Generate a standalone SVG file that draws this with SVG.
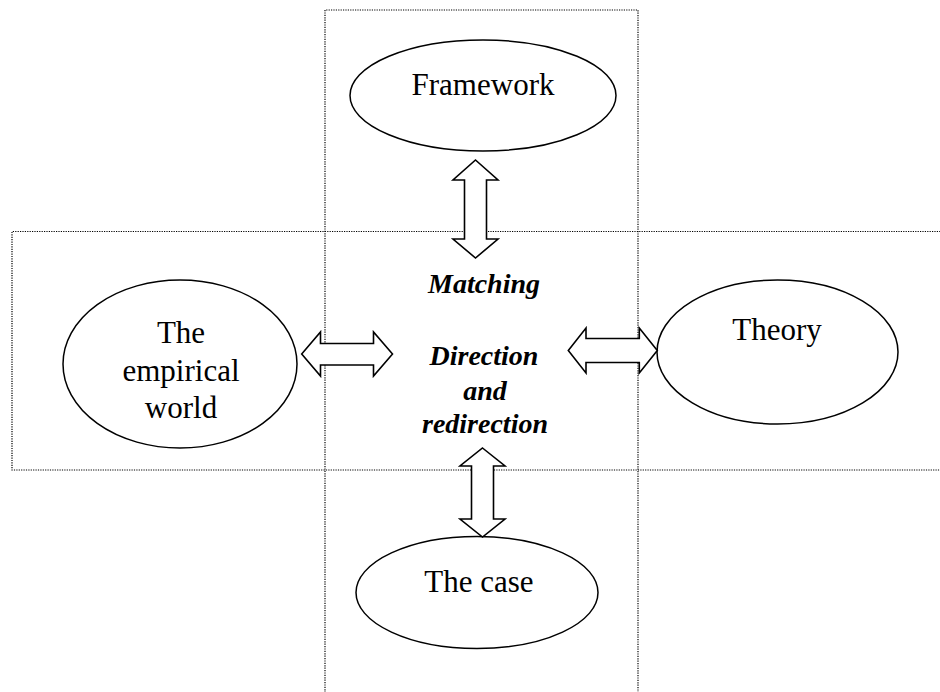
<svg xmlns="http://www.w3.org/2000/svg" width="940" height="692" viewBox="0 0 940 692">
<style>
.dot{fill:none;stroke:#000;stroke-width:1.2;stroke-dasharray:1.2 1.2}
.node{fill:#fff;stroke:#000;stroke-width:1.5}
.arr{fill:#fff;stroke:#000;stroke-width:1.6;stroke-linejoin:miter}
.lbl{font-size:31px;fill:#000;text-anchor:middle}
.mid{font-size:28px;font-style:italic;font-weight:bold;fill:#000;text-anchor:middle}
</style>
<rect width="940" height="692" fill="#fff"/>
<g id="frames">
<path class="dot" d="M325,700 V10 H638 V700"/>
<path class="dot" d="M950,231.5 H12 V470 H950"/>
</g>
<g font-family="'Liberation Serif', 'Times New Roman', 'DejaVu Serif', serif">
<g id="framework">
<ellipse class="node" cx="483" cy="95.5" rx="133" ry="55.5"/>
<text class="lbl" x="483" y="95">Framework</text>
</g>
<g id="empirical">
<ellipse class="node" cx="180" cy="364" rx="117" ry="84"/>
<text class="lbl" x="181" y="343">The</text>
<text class="lbl" x="181" y="381">empirical</text>
<text class="lbl" x="181" y="418">world</text>
</g>
<g id="theory">
<ellipse class="node" cx="777.5" cy="352" rx="120.5" ry="72"/>
<text class="lbl" x="777" y="340">Theory</text>
</g>
<g id="thecase">
<ellipse class="node" cx="477" cy="592.5" rx="121" ry="56"/>
<text class="lbl" x="479" y="592">The case</text>
</g>
<g id="center">
<text class="mid" x="484" y="293">Matching</text>
<text class="mid" x="484" y="365">Direction</text>
<text class="mid" x="485" y="400">and</text>
<text class="mid" x="485" y="433">redirection</text>
</g>
</g>
<g id="connectors">
<polygon class="arr" points="475.5,160 498,180 486.5,180 486.5,239 498,239 475.5,258 453,239 464.5,239 464.5,180 453,180"/>
<polygon class="arr" points="482.5,448 505,466 493.5,466 493.5,519 505,519 482.5,537 460,519 471.5,519 471.5,466 460,466"/>
<polygon class="arr" points="301.7,354 320.5,332 320.5,343.5 373.5,343.5 373.5,332 392.5,354 373.5,376 373.5,365 320.5,365 320.5,376"/>
<polygon class="arr" points="568.3,350.5 586,328 586,338.5 639.3,338.5 639.3,328 657.3,350.5 639.3,373 639.3,362.5 586,362.5 586,373"/>
</g>
</svg>
